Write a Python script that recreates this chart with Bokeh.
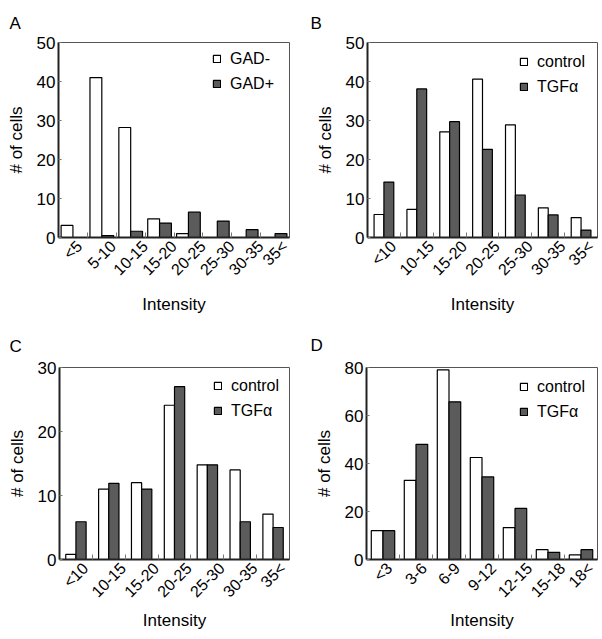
import math
from bokeh.plotting import figure
from bokeh.layouts import column, row
from bokeh.models import FixedTicker, Range1d, ColumnDataSource
from bokeh.transform import dodge
from bokeh.embed import file_html
from bokeh.resources import INLINE

# ---------------- data ----------------
cats_a = ["<5", "5-10", "10-15", "15-20", "20-25", "25-30", "30-35", "35<"]
gad_neg = [3.1, 41, 28.2, 4.8, 1.0, 0, 0, 0]
gad_pos = [0, 0.5, 1.6, 3.7, 6.5, 4.2, 2.0, 1.0]

cats_b = ["<10", "10-15", "15-20", "20-25", "25-30", "30-35", "35<"]
ctrl_b = [5.9, 7.2, 27.1, 40.6, 28.9, 7.6, 5.1]
tgf_b = [14.2, 38.1, 29.7, 22.6, 10.9, 5.8, 1.9]

cats_c = ["<10", "10-15", "15-20", "20-25", "25-30", "30-35", "35<"]
ctrl_c = [0.8, 11, 12, 24.1, 14.8, 14, 7.1]
tgf_c = [5.9, 11.9, 11, 27, 14.8, 5.9, 5.0]

cats_d = ["<3", "3-6", "6-9", "9-12", "12-15", "15-18", "18<"]
ctrl_d = [12, 33, 79, 42.5, 13.3, 4.1, 1.9]
tgf_d = [12, 48, 65.7, 34.4, 21.3, 3.0, 4.1]

FONT = "Liberation Sans"
DARK = "#5b5b5b"
XLAB_PX = 16
# approximate advance widths (em) of Liberation Sans, used to centre rotated labels
CHAR_W = {"<": 0.584, ">": 0.584, "-": 0.333}

LEG_ROW = 20
LEG_GAP = 5


def text_w(s):
    return sum(CHAR_W.get(ch, 0.556) for ch in s) * XLAB_PX


def panel(letter, cats, v1, v2, n1, n2, ymax, ystep, bw,
          width, height, bl, br, bt, bb, leg_x, leg_top, title_stand, xlab_stand):
    n = len(cats)
    centers = [i + 0.5 for i in range(n)]
    src = ColumnDataSource(dict(x=centers, a=v1, b=v2))
    p = figure(width=width, height=height, output_backend="svg",
               toolbar_location=None, x_range=Range1d(0, n),
               y_range=Range1d(0, ymax),
               min_border_left=bl, min_border_right=br,
               min_border_top=bt, min_border_bottom=bb)
    p.vbar(x=dodge("x", -bw / 2, range=p.x_range), top="a", width=bw, source=src,
           fill_color="white", line_color="black", line_width=1.2, legend_label=n1)
    p.vbar(x=dodge("x", bw / 2, range=p.x_range), top="b", width=bw, source=src,
           fill_color=DARK, line_color="black", line_width=1.2, legend_label=n2)
    p.xgrid.visible = False
    p.ygrid.visible = False
    p.outline_line_color = "#555555"
    p.outline_line_width = 1
    p.background_fill_color = "white"
    p.border_fill_color = "white"

    p.title.text = letter
    p.title.align = "left"
    p.title.offset = -(bl - 9)
    p.title.standoff = title_stand
    p.title.text_font = FONT
    p.title.text_font_size = "17px"
    p.title.text_font_style = "normal"
    p.title.text_color = "black"

    # rotated tick labels: put each label's centre under its category centre
    fw = width - bl - br
    ppu = fw / n
    ticks = [round(c + text_w(t) / 2 * math.cos(math.pi / 4) / ppu, 4)
             for c, t in zip(centers, cats)]
    xa = p.xaxis[0]
    xa.ticker = FixedTicker(ticks=ticks, minor_ticks=[i for i in range(1, n)])
    xa.major_label_overrides = {tk: t for tk, t in zip(ticks, cats)}
    xa.major_tick_in = 0
    xa.major_tick_out = 0
    xa.minor_tick_in = 5
    xa.minor_tick_out = 0
    xa.minor_tick_line_color = "#777777"
    xa.major_label_orientation = math.pi / 4
    xa.major_label_text_font = FONT
    xa.major_label_text_font_size = f"{XLAB_PX}px"
    xa.major_label_text_color = "black"
    xa.major_label_standoff = 6
    xa.axis_label = "Intensity"
    xa.axis_label_text_font = FONT
    xa.axis_label_text_font_size = "17px"
    xa.axis_label_text_font_style = "normal"
    xa.axis_label_text_color = "black"
    xa.axis_label_standoff = xlab_stand
    xa.axis_line_width = 2
    xa.axis_line_color = "#222222"

    ya = p.yaxis[0]
    ya.ticker = FixedTicker(ticks=list(range(0, ymax + 1, ystep)))
    ya.major_tick_in = 3
    ya.major_tick_out = 0
    ya.major_tick_line_color = "#777777"
    ya.minor_tick_line_color = None
    ya.major_label_text_font = FONT
    ya.major_label_text_font_size = "17px"
    ya.major_label_text_color = "black"
    ya.major_label_standoff = 3
    ya.axis_label = "# of cells"
    ya.axis_label_text_font = FONT
    ya.axis_label_text_font_size = "17px"
    ya.axis_label_text_font_style = "normal"
    ya.axis_label_text_color = "black"
    ya.axis_label_standoff = 8
    ya.axis_line_width = 2
    ya.axis_line_color = "#222222"

    fh = height - bt - bb
    leg_h = 2 * LEG_ROW + LEG_GAP
    lg = p.legend[0]
    lg.location = (leg_x, fh - leg_top - leg_h)
    lg.border_line_color = None
    lg.background_fill_alpha = 0
    lg.label_text_font = FONT
    lg.label_text_font_size = "16px"
    lg.label_text_color = "black"
    lg.glyph_width = 9
    lg.glyph_height = 9
    lg.label_height = LEG_ROW
    lg.spacing = LEG_GAP
    lg.label_standoff = 9
    lg.margin = 0
    lg.padding = 0
    return p


pa = panel("A", cats_a, gad_neg, gad_pos, "GAD-", "GAD+", 50, 10, 0.41,
           301, 320, 58, 12, 42, 82, 154, 7.5, 20, 8)
pb = panel("B", cats_b, ctrl_b, tgf_b, "control", "TGF\u03b1", 50, 10, 0.30,
           301, 320, 66, 5, 42, 83, 152, 9.5, 20, 8)
pc = panel("C", cats_c, ctrl_c, tgf_c, "control", "TGF\u03b1", 30, 10, 0.31,
           301, 319, 59, 12, 46, 80, 154, 9.5, 24, 2)
pd = panel("D", cats_d, ctrl_d, tgf_d, "control", "TGF\u03b1", 80, 20, 0.355,
           301, 319, 65, 5, 47, 80, 153, 9.5, 25, 2)

layout = column(row(pa, pb), row(pc, pd))
open("out.html", "w").write(file_html(layout, INLINE))
